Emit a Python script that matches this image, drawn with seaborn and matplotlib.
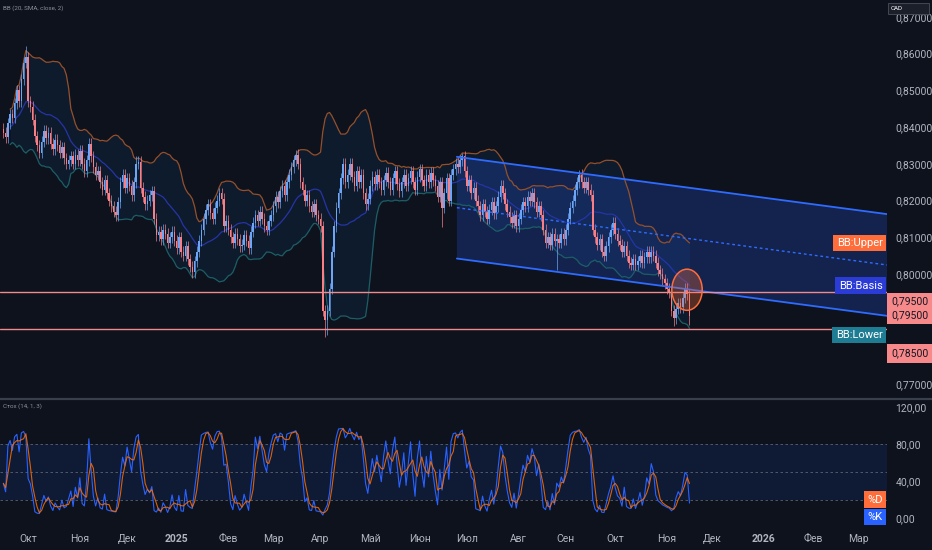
import numpy as np
import pandas as pd
import matplotlib
matplotlib.use("Agg")
import matplotlib.pyplot as plt
import matplotlib.transforms as mtransforms
from matplotlib.patches import Ellipse, Polygon, Rectangle
from matplotlib.lines import Line2D
import seaborn as sns

# --- data (daily bars, from 16 Sep 2024) ---
START = "2024-09-16"
closes = [
    0.8385, 0.8372, 0.8410, 0.8435, 0.8425, 0.8465, 0.8500, 0.8470, 0.8530, 0.8575,
    0.8590, 0.8470, 0.8455, 0.8420, 0.8375, 0.8350, 0.8330, 0.8360, 0.8390, 0.8370,
    0.8385, 0.8355, 0.8340, 0.8365, 0.8350, 0.8330, 0.8345, 0.8315, 0.8300, 0.8310,
    0.8320, 0.8300, 0.8325, 0.8310, 0.8335, 0.8300, 0.8280, 0.8310, 0.8355, 0.8320,
    0.8290, 0.8270, 0.8280, 0.8250, 0.8230, 0.8255, 0.8220, 0.8200, 0.8185, 0.8170,
    0.8160, 0.8195, 0.8250, 0.8270, 0.8235, 0.8260, 0.8240, 0.8215, 0.8250, 0.8300,
    0.8305, 0.8235, 0.8210, 0.8190, 0.8200, 0.8215, 0.8225, 0.8150, 0.8105, 0.8115,
    0.8095, 0.8120, 0.8110, 0.8085, 0.8100, 0.8115, 0.8090, 0.8070, 0.8100, 0.8060,
    0.8050, 0.8075, 0.8040, 0.8020, 0.8005, 0.8035, 0.8060, 0.8090, 0.8120, 0.8150,
    0.8175, 0.8190, 0.8165, 0.8150, 0.8180, 0.8200, 0.8220, 0.8205, 0.8130, 0.8145,
    0.8120, 0.8100, 0.8085, 0.8110, 0.8095, 0.8075, 0.8080, 0.8105, 0.8090, 0.8070,
    0.8115, 0.8140, 0.8160, 0.8145, 0.8170, 0.8150, 0.8130, 0.8120, 0.8145, 0.8160,
    0.8185, 0.8210, 0.8195, 0.8225, 0.8240, 0.8215, 0.8250, 0.8270, 0.8290, 0.8310,
    0.8325, 0.8300, 0.8250, 0.8230, 0.8200, 0.8215, 0.8185, 0.8170, 0.8190, 0.8160,
    0.8150, 0.8130, 0.7900, 0.7875, 0.7900, 0.7960, 0.8060, 0.8130, 0.8180, 0.8220,
    0.8260, 0.8300, 0.8250, 0.8270, 0.8300, 0.8265, 0.8240, 0.8280, 0.8250, 0.8270,
    0.8220, 0.8190, 0.8205, 0.8240, 0.8265, 0.8245, 0.8270, 0.8250, 0.8230, 0.8255,
    0.8275, 0.8250, 0.8230, 0.8260, 0.8280, 0.8245, 0.8225, 0.8250, 0.8270, 0.8240,
    0.8260, 0.8280, 0.8250, 0.8230, 0.8265, 0.8285, 0.8255, 0.8240, 0.8270, 0.8250,
    0.8275, 0.8255, 0.8240, 0.8210, 0.8250, 0.8180, 0.8220, 0.8260, 0.8200, 0.8270,
    0.8285, 0.8300, 0.8290, 0.8310, 0.8320, 0.8280, 0.8240, 0.8255, 0.8220, 0.8235,
    0.8200, 0.8185, 0.8160, 0.8190, 0.8170, 0.8150, 0.8175, 0.8195, 0.8165, 0.8185,
    0.8210, 0.8240, 0.8220, 0.8190, 0.8170, 0.8155, 0.8140, 0.8160, 0.8130, 0.8150,
    0.8175, 0.8195, 0.8185, 0.8210, 0.8200, 0.8220, 0.8195, 0.8170, 0.8185, 0.8160,
    0.8120, 0.8085, 0.8100, 0.8080, 0.8110, 0.8090, 0.8095, 0.8085, 0.8110, 0.8095,
    0.8120, 0.8150, 0.8180, 0.8200, 0.8230, 0.8250, 0.8270, 0.8250, 0.8235, 0.8250,
    0.8230, 0.8215, 0.8120, 0.8100, 0.8080, 0.8095, 0.8060, 0.8050, 0.8075, 0.8100,
    0.8120, 0.8140, 0.8110, 0.8090, 0.8080, 0.8060, 0.8075, 0.8050, 0.8030, 0.8025,
    0.8040, 0.8025, 0.8035, 0.8050, 0.8030, 0.8045, 0.8060, 0.8045, 0.8060, 0.8050,
    0.8030, 0.8010, 0.8000, 0.7985, 0.7975, 0.7960, 0.7950, 0.7900, 0.7880, 0.7905,
    0.7920, 0.7910, 0.7935, 0.7960, 0.7945, 0.7885,
]
first_open = 0.8395
wick = 0.0015
high_spikes = {10: 0.8622, 59: 0.8322, 130: 0.8338, 204: 0.8330, 256: 0.8282}
low_spikes = {84: 0.7990, 143: 0.7828, 144: 0.7835, 195: 0.8128, 246: 0.8010,
              298: 0.7858, 305: 0.7862}

month_labels = ["Окт", "Ноя", "Дек", "2025", "Фев", "Мар", "Апр", "Май", "Июн",
                "Июл", "Авг", "Сен", "Окт", "Ноя", "Дек", "2026", "Фев", "Мар"]
price_ticks = [0.77, 0.80, 0.81, 0.82, 0.83, 0.84, 0.85, 0.86, 0.87]
stoch_ticks = [0, 40, 80, 120]
level_lines = [0.795, 0.785]
level_labels = ["0,79500\n0,79500", "0,78500"]

# parallel channel drawing: upper edge anchors (bar, price) + width
channel_bars = [201.6, 392.8]
channel_upper = [0.8319, 0.8163]
channel_width = 0.0277

BG = "#0d121d"
UP, DOWN = "#6ea6f7", "#f77f85"
TXT = "#b2b5be"

sns.set_theme(style="dark", rc={"axes.facecolor": BG, "figure.facecolor": BG})
plt.rcParams["font.family"] = ["Roboto", "DejaVu Sans"]

# --- derived OHLC / indicators ---
c = np.array(closes)
o = np.concatenate([[first_open], c[:-1]])
h = np.maximum(o, c) + wick
l = np.minimum(o, c) - wick
for k, v in high_spikes.items():
    h[k] = v
for k, v in low_spikes.items():
    l[k] = v
idx = np.arange(len(c))

s = pd.Series(c)
basis = s.rolling(20, min_periods=4).mean()
dev = s.rolling(20, min_periods=4).std(ddof=0)
upper = basis + 2 * dev
lower = basis - 2 * dev

hh = pd.Series(h).rolling(14, min_periods=1).max()
ll = pd.Series(l).rolling(14, min_periods=1).min()
k_line = 100 * (s - ll) / (hh - ll)
d_line = k_line.rolling(3, min_periods=1).mean()

all_days = pd.bdate_range(START, "2026-03-31")
month_pos = [i for i in range(1, len(all_days)) if all_days[i].month != all_days[i - 1].month]
month_pos = month_pos[:len(month_labels)]

# --- figure ---
W, H = 932, 550
fig = plt.figure(figsize=(W / 100, H / 100), dpi=100)
ax = fig.add_axes([0, 1 - 397 / H, 887 / W, 397 / H])
ax2 = fig.add_axes([0, 1 - 526 / H, 887 / W, 126 / H])
for a in (ax, ax2):
    a.set_facecolor(BG)
    for sp in a.spines.values():
        sp.set_visible(False)
    a.grid(False)
    a.set_xlim(-1.5, 392.8)

# bollinger bands
ax.fill_between(idx, lower, upper, color="#2196f3", alpha=0.07, lw=0, zorder=1)
sns.lineplot(x=idx, y=upper, ax=ax, color="#94502c", lw=0.9, zorder=2)
sns.lineplot(x=idx, y=basis, ax=ax, color="#2634a8", lw=0.9, zorder=2)
sns.lineplot(x=idx, y=lower, ax=ax, color="#1d5e66", lw=0.9, zorder=2)

# channel
cb = np.array(channel_bars)
cu = np.array(channel_upper)
poly = Polygon([[cb[0], cu[0]], [cb[1], cu[1]], [cb[1], cu[1] - channel_width],
                [cb[0], cu[0] - channel_width]], closed=True,
               fc="#2962ff", alpha=0.22, ec="none", zorder=1)
ax.add_patch(poly)
ax.plot(cb, cu, color="#2f6bff", lw=1.3, zorder=4)
ax.plot(cb, cu - channel_width, color="#2f6bff", lw=1.3, zorder=4)
ax.plot(cb, cu - channel_width / 2, color="#2f6bff", lw=1.0, ls=(0, (2, 2)), zorder=4)

# candles
up = c >= o
ax.vlines(idx[up], l[up], h[up], color=UP, lw=0.7, alpha=0.7, zorder=3)
ax.vlines(idx[~up], l[~up], h[~up], color=DOWN, lw=0.7, alpha=0.7, zorder=3)
body = np.maximum(np.abs(c - o), 0.0003)
ax.bar(idx[up], body[up], bottom=np.minimum(o, c)[up], width=0.7, color=UP, lw=0, zorder=3)
ax.bar(idx[~up], body[~up], bottom=np.minimum(o, c)[~up], width=0.7, color=DOWN, lw=0, zorder=3)

# horizontal levels
for lv in level_lines:
    ax.axhline(lv, color="#f08a8c", lw=1.0, zorder=4)

# highlight circle
ax.add_patch(Ellipse((303.9, 0.7957), 13.5, 0.0112, fc="#ff6d3a", alpha=0.3, ec="none", zorder=5))
ax.add_patch(Ellipse((303.9, 0.7957), 13.5, 0.0112, fc="none", ec="#ff6d3a", lw=1.1, zorder=5))

ax.set_ylim(0.7665, 0.8746)
ax.set_xticks([])
ax.yaxis.tick_right()
ax.set_yticks(price_ticks)
ax.set_yticklabels([f"{v:.5f}".replace(".", ",") for v in price_ticks])
ax.tick_params(axis="y", length=0, pad=6, labelsize=7.5, labelcolor=TXT)
ax.set_xlabel("")
ax.set_ylabel("")

tr = mtransforms.blended_transform_factory(ax.transAxes, ax.transData)
bb_labels = [("BB:Upper", upper.iloc[-1], "#ff6d3a"),
             ("BB:Basis", basis.iloc[-1], "#2b3bd6"),
             ("BB:Lower", lower.iloc[-1] - 0.0018, "#1e7d92")]
for txt, yv, col in bb_labels:
    ax.text(0.995, yv, txt, transform=tr, ha="right", va="center", color="white",
            fontsize=8, zorder=10,
            bbox=dict(boxstyle="square,pad=0.3", fc=col, ec="none"))
for txt, yv in zip(level_labels, [0.7906, 0.7783]):
    ax.text(1.005, yv, txt, transform=tr, ha="left", va="center", color="#131722",
            fontsize=7.5, zorder=10, clip_on=False, linespacing=1.45,
            bbox=dict(boxstyle="square,pad=0.4", fc="#f7898b", ec="none"))

# stochastic panel
ax2.axhspan(20, 80, color="#2962ff", alpha=0.1, lw=0)
for lv in (80, 50, 20):
    ax2.axhline(lv, color="#5d6270", lw=0.6, ls=(0, (3, 3)))
sns.lineplot(x=idx, y=k_line, ax=ax2, color="#2962ff", lw=0.8)
sns.lineplot(x=idx, y=d_line, ax=ax2, color="#ff6d00", lw=0.8, alpha=0.85)
ax2.set_ylim(-8.6, 127.6)
ax2.yaxis.tick_right()
ax2.set_yticks(stoch_ticks)
ax2.set_yticklabels([f"{v:.2f}".replace(".", ",") for v in stoch_ticks])
ax2.tick_params(axis="y", length=0, pad=6, labelsize=7.5, labelcolor=TXT)
ax2.set_xticks(month_pos)
ax2.set_xticklabels(month_labels)
ax2.tick_params(axis="x", length=0, pad=6, labelsize=7.5, labelcolor=TXT)
for t in ax2.get_xticklabels():
    if t.get_text().isdigit():
        t.set_fontweight("bold")
ax2.set_xlabel("")
ax2.set_ylabel("")
tr2 = mtransforms.blended_transform_factory(ax2.transAxes, ax2.transData)
ax2.text(0.995, 20, "%D", transform=tr2, ha="right", va="center", color="white",
         fontsize=8, bbox=dict(boxstyle="square,pad=0.3", fc="#ff6d3a", ec="none"))
ax2.text(0.995, 1, "%K", transform=tr2, ha="right", va="center", color="white",
         fontsize=8, bbox=dict(boxstyle="square,pad=0.3", fc="#2962ff", ec="none"))

# panel separator and captions
fig.add_artist(Line2D([0, 1], [1 - 398.5 / H] * 2, color="#3a3f4c", lw=1.6))
fig.text(3 / W, 1 - 8 / H, "BB (20, SMA, close, 2)", fontsize=4.5, color="#8a8f9c", va="center")
fig.text(3 / W, 1 - 406 / H, "Стох (14, 1, 3)", fontsize=4.5, color="#8a8f9c", va="center")
fig.add_artist(Rectangle((888 / W, 1 - 14 / H), 41 / W, 11 / H, transform=fig.transFigure,
                         fc="#1b1f2a", ec="#4a4f5c", lw=0.6))
fig.text(891 / W, 1 - 8.5 / H, "CAD", fontsize=4.5, color="white", va="center")

fig.savefig("out.png", dpi=100, facecolor=BG)
